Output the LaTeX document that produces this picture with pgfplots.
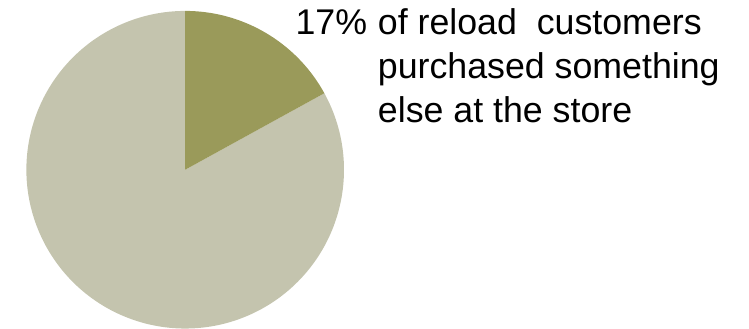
\documentclass[border=0pt]{standalone}
\usepackage{pgfplots}
\pgfplotsset{compat=1.18}
\usepackage{fontspec}
\setmainfont{Liberation Sans}
\definecolor{slicea}{RGB}{154,154,90}
\definecolor{sliceb}{RGB}{196,196,174}
\begin{document}
\pgfmathsetmacro{\share}{17}
\pgfmathsetmacro{\angA}{90-3.6*\share}
\begin{tikzpicture}[x=1pt,y=1pt]
\useasboundingbox (0,0) rectangle (749,331);
\begin{axis}[
  at={(181pt,160pt)}, anchor=center,
  scale only axis, width=320pt, height=320pt,
  xmin=-1, xmax=1, ymin=-1, ymax=1,
  hide axis, clip=false,
]
\addplot[fill=sliceb, draw=none, domain=90:\angA+360, samples=200, variable=\t] ({cos(\t)},{sin(\t)}) -- (axis cs:0,0) -- cycle;
\addplot[fill=slicea, draw=none, domain=\angA:90, samples=80, variable=\t] ({cos(\t)},{sin(\t)}) -- (axis cs:0,0) -- cycle;
\end{axis}
\fontsize{36}{44}\selectfont
\node[anchor=base west, inner sep=0pt] at (292,296) {17\%};
\node[anchor=base west, inner sep=0pt] at (375,296) {of reload\ \ customers};
\node[anchor=base west, inner sep=0pt] at (375,252) {purchased something};
\node[anchor=base west, inner sep=0pt] at (375,208) {else at the store};
\end{tikzpicture}
\end{document}
